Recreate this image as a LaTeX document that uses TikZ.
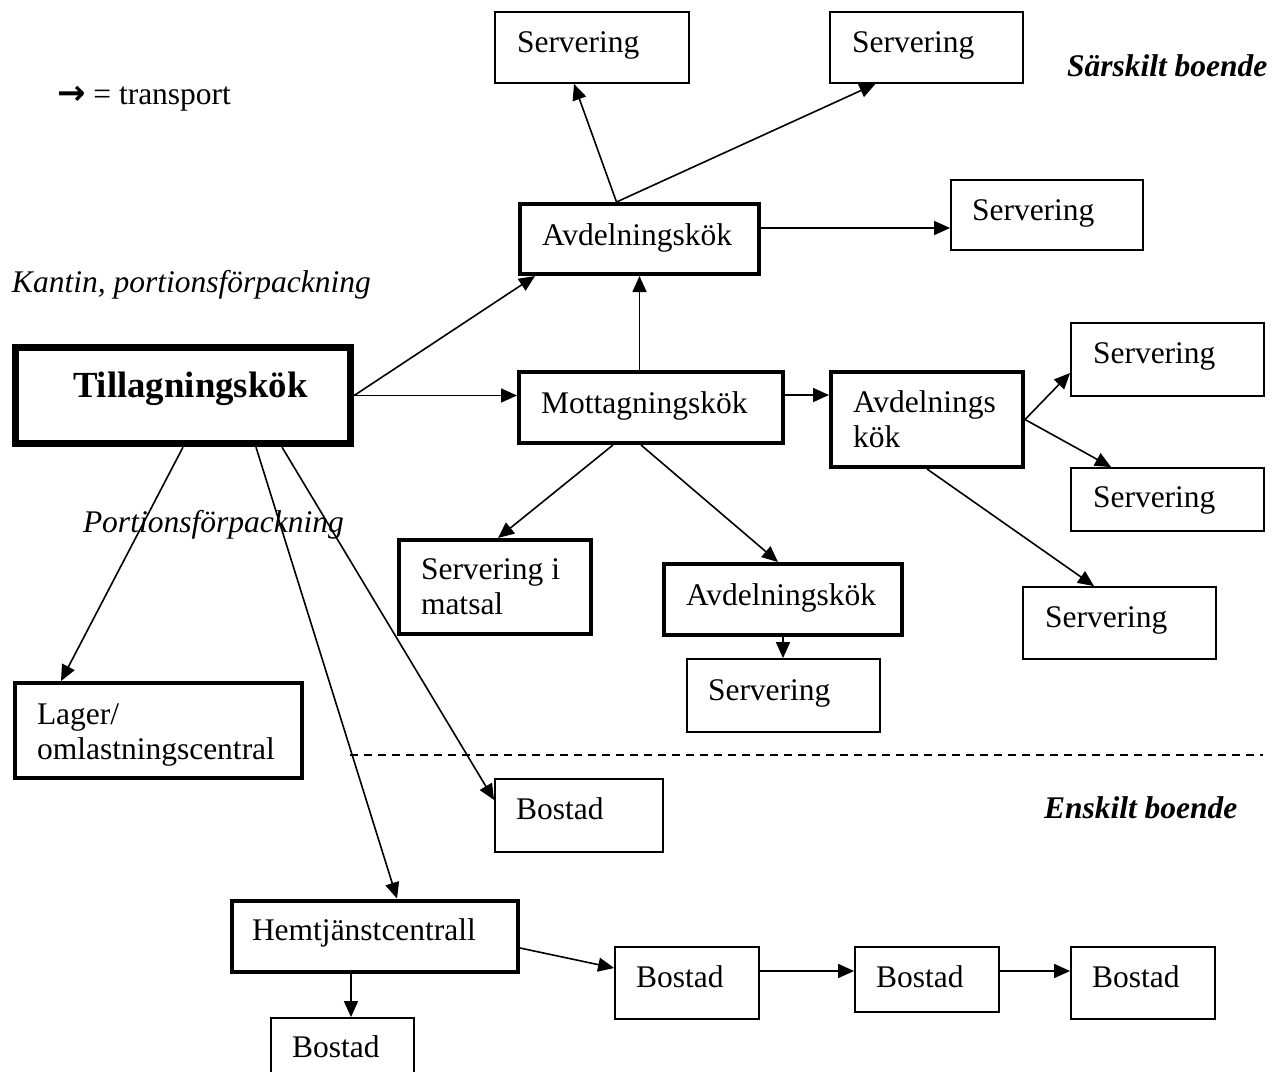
\documentclass[tikz,border=0pt]{standalone}
\usepackage{fontspec}
\setmainfont{Liberation Serif}
\newfontfamily\symfont{DejaVu Sans}
\usetikzlibrary{arrows.meta,calc}

\begin{document}
\begin{tikzpicture}[x=1pt,y=-1pt,
  box/.style={draw, line width=1.8pt, inner sep=0pt},
  thickbox/.style={box, line width=4pt},
  mainbox/.style={box, line width=7.3pt},
  txt/.style={inner sep=0pt, outer sep=0pt, anchor=base west,
    font=\fontsize{31.5pt}{35.5pt}\selectfont},
  multi/.style={txt, anchor=north west, align=left},
  emph/.style={txt, font=\fontsize{31.5pt}{35.5pt}\selectfont\itshape},
  region/.style={txt, font=\fontsize{31.5pt}{35.5pt}\selectfont\bfseries\itshape},
  arr/.style={line width=1.6pt, -{Triangle[length=16pt,width=14pt]}},
  sep/.style={line width=1.5pt, dash pattern=on 8pt off 6pt}]

\useasboundingbox (0,0) rectangle (1287,1071);
\clip (0,0) rectangle (1287,1071);

% ---- boxes ----
\node[box, minimum width=194pt, minimum height=71pt] (s1) at (592,47.5) {};
\node[box, minimum width=193pt, minimum height=71pt] (s2) at (926.5,47.5) {};
\node[box, minimum width=192pt, minimum height=70pt] (s3) at (1047,215) {};
\node[thickbox, minimum width=239pt, minimum height=70pt] (a1) at (639.5,239) {};
\node[mainbox, minimum width=335pt, minimum height=96pt] (till) at (183,395.5) {};
\node[thickbox, minimum width=264pt, minimum height=71pt] (mott) at (651,407.5) {};
\node[thickbox, minimum width=192pt, minimum height=95pt] (a3) at (927,419.5) {};
\node[box, minimum width=193pt, minimum height=73pt] (s4) at (1167.5,359.5) {};
\node[box, minimum width=193pt, minimum height=63pt] (s5) at (1167.5,499.5) {};
\node[box, minimum width=193pt, minimum height=72pt] (s6) at (1119.5,623) {};
\node[thickbox, minimum width=192pt, minimum height=94pt] (sm) at (495,587) {};
\node[thickbox, minimum width=238pt, minimum height=71pt] (a2) at (783,599.5) {};
\node[box, minimum width=193pt, minimum height=73pt] (s7) at (783.5,695.5) {};
\node[thickbox, minimum width=287pt, minimum height=95pt] (lager) at (158.5,730.5) {};
\node[box, minimum width=168pt, minimum height=73pt] (b1) at (579,815.5) {};
\node[thickbox, minimum width=286pt, minimum height=71pt] (hem) at (375,936) {};
\node[box, minimum width=144pt, minimum height=72pt] (b2) at (687,983) {};
\node[box, minimum width=144pt, minimum height=65pt] (b3) at (927,979.5) {};
\node[box, minimum width=144pt, minimum height=72pt] (b4) at (1143,983) {};
\node[box, minimum width=143pt, minimum height=72pt] (b5) at (342.5,1054) {};

% ---- box texts ----
\node[txt] (s1t) at (517,52) {Servering};
\node[txt] (s2t) at (852,52) {Servering};
\node[txt] (s3t) at (972,220) {Servering};
\node[txt] (a1t) at (542,245) {Avdelningskök};
\node[txt, font=\fontsize{36.8pt}{40pt}\selectfont\bfseries] (tillt) at (73,397) {Tillagningskök};
\node[txt] (mottt) at (541,413) {Mottagningskök};
\node[multi] (a3t) at (853,390.5) {Avdelnings\\kök};
\node[txt] (s4t) at (1093,363) {Servering};
\node[txt] (s5t) at (1093,507) {Servering};
\node[txt] (s6t) at (1045,627) {Servering};
\node[multi] (smt) at (421,558.5) {Servering i\\matsal};
\node[txt] (a2t) at (686,605) {Avdelningskök};
\node[txt] (s7t) at (708,700) {Servering};
\node[multi] (lagert) at (37,703.5) {Lager/\\omlastningscentral};
\node[txt] (b1t) at (516,819) {Bostad};
\node[txt] (hemt) at (252,940) {Hemtjänstcentrall};
\node[txt] (b2t) at (636,987) {Bostad};
\node[txt] (b3t) at (876,987) {Bostad};
\node[txt] (b4t) at (1092,987) {Bostad};
\node[txt] (b5t) at (292,1057) {Bostad};

% ---- free labels ----
\node[txt] (legend) at (57,104) {{\symfont\bfseries\fontsize{34pt}{36pt}\selectfont →} = transport};
\node[emph] (kantin) at (12,292) {Kantin, portionsförpackning};
\node[emph] (portion) at (83,532) {Portionsförpackning};
\node[region] (sarskilt) at (1067,76) {Särskilt boende};
\node[region] (enskilt) at (1044,818) {Enskilt boende};

% ---- separator between the two kinds of housing ----
\coordinate (sepL) at (350,755);
\coordinate (sepR) at (1263,755);
\draw[sep] (sepL) -- (sepR);

% ---- transport connectors ----
\draw[arr] (till.east) -- ([xshift=17pt]a1.south west);
\draw[arr] (till.east) -- (till.east -| mott.west);
\draw[arr] (a1.south |- mott.north) -- (a1.south);
\draw[arr] ([xshift=-23pt]a1.north) -- ([xshift=-18pt]s1.south);
\draw[arr] ([xshift=-23pt]a1.north) -- ([xshift=-51pt]s2.south);
\draw[arr] ([yshift=11pt]a1.east) coordinate (a1o) -- (a1o -| s3.west);
\draw[arr] ([yshift=12.5pt]mott.east) coordinate (mo) -- (mo -| a3.west);
\draw[arr] (a3.east) -- ([yshift=-13.5pt]s4.west);
\draw[arr] (a3.east) -- ([xshift=41pt]s5.north west);
\draw[arr] (a3.south) -- ([xshift=-25.5pt]s6.north);
\draw[arr] ([xshift=-38pt]mott.south) -- ([xshift=3pt]sm.north);
\draw[arr] ([xshift=-10pt]mott.south) -- ([xshift=-5pt]a2.north);
\draw[arr] (a2.south) -- (a2.south |- s7.north);
\draw[arr] (till.south) -- ([xshift=48pt]lager.north west);
\draw[arr] ([xshift=73pt]till.south) -- ([xshift=22pt]hem.north);
\draw[arr] ([xshift=99pt]till.south) -- ([yshift=15.5pt]b1.west);
\draw[arr] ([yshift=-12pt]hem.east) -- ([yshift=15pt]b2.west);
\draw[arr] ([xshift=-24pt]hem.south) coordinate (ho) -- (ho |- b5.north);
\draw[arr] ([yshift=12pt]b2.east) coordinate (bo2) -- (bo2 -| b3.west);
\draw[arr] ([yshift=8.5pt]b3.east) coordinate (bo3) -- (bo3 -| b4.west);

\end{tikzpicture}
\end{document}
